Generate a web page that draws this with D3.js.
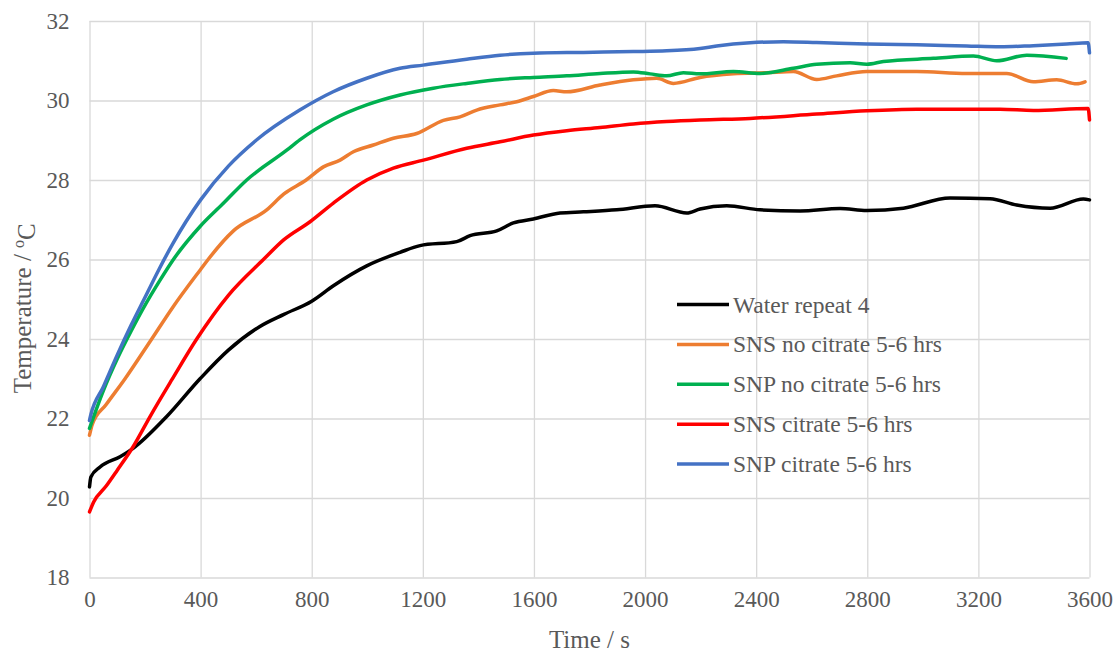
<!DOCTYPE html>
<html>
<head>
<meta charset="utf-8">
<title>Temperature vs time</title>
<style>
  body { margin: 0; background: #fff; }
  svg { display: block; font-family: "Liberation Serif", "Times New Roman", serif; }
  .grid line { stroke: #d9d9d9; stroke-width: 1.3; }
  .series { fill: none; stroke-width: 3.5; stroke-linejoin: round; stroke-linecap: round; }
</style>
</head>
<body>
<div id="chart"></div>
<script src="https://cdn.jsdelivr.net/npm/d3@7"></script>
<script>
// tick values
const xTicks = [0, 400, 800, 1200, 1600, 2000, 2400, 2800, 3200, 3600];
const yTicks = [18, 20, 22, 24, 26, 28, 30, 32];

// series names + colours
const names = ["Water repeat 4", "SNS no citrate 5-6 hrs", "SNP no citrate 5-6 hrs", "SNS citrate 5-6 hrs", "SNP citrate 5-6 hrs"];
const colors = ["#000000", "#ed7d31", "#00b050", "#ff0000", "#4472c4"];

// [time s, temperature C]
const water = [[0,20.28],[5,20.53],[38,20.78],[110,21.04],[157,21.25],[278,22.05],[398,23.0],[500,23.72],
  [612,24.31],[700,24.62],[800,24.95],[878,25.34],[998,25.84],[1118,26.18],[1190,26.35],[1322,26.45],
  [1370,26.6],[1466,26.72],[1526,26.92],[1598,27.02],[1694,27.17],[1778,27.2],[1898,27.25],[2036,27.35],
  [2150,27.17],[2198,27.27],[2294,27.35],[2414,27.25],[2558,27.22],[2702,27.28],[2798,27.23],[2930,27.29],
  [3098,27.55],[3242,27.53],[3338,27.37],[3458,27.29],[3578,27.52],[3600,27.5]];

const snsNo = [[0,21.58],[10,21.85],[60,22.35],[128,23.0],[224,24.0],[300,24.8],[400,25.75],[427,26.0],[518,26.72],
  [638,27.25],[700,27.65],[780,28.0],[842,28.33],[902,28.5],[950,28.71],[1022,28.88],[1094,29.05],
  [1178,29.17],[1274,29.5],[1334,29.59],[1394,29.76],[1478,29.89],[1538,29.97],[1598,30.1],[1670,30.25],
  [1718,30.22],[1838,30.39],[1958,30.52],[2042,30.56],[2102,30.43],[2198,30.58],[2318,30.67],[2438,30.7],
  [2534,30.73],[2618,30.53],[2690,30.62],[2798,30.73],[2978,30.73],[3158,30.68],[3302,30.68],[3398,30.47],
  [3482,30.52],[3554,30.42],[3584,30.47]];

const snpNo = [[0,21.75],[50,22.7],[100,23.5],[150,24.2],[200,24.85],[254,25.48],[302,26.0],[398,26.83],[480,27.4],
  [566,28.0],[710,28.75],[757,29.01],[877,29.53],[998,29.89],[1118,30.14],[1238,30.31],[1358,30.43],
  [1478,30.53],[1598,30.58],[1718,30.62],[1838,30.68],[1958,30.72],[2018,30.67],[2078,30.62],[2138,30.7],
  [2198,30.67],[2318,30.73],[2414,30.68],[2534,30.81],[2618,30.91],[2738,30.95],[2798,30.91],[2858,30.98],
  [3038,31.06],[3182,31.12],[3266,31.0],[3374,31.14],[3516,31.06]];

const snsCit = [[0,19.65],[15,19.9],[60,20.3],[100,20.7],[157,21.29],[218,22.05],[296,22.97],[386,24.0],[500,25.1],
  [626,26.0],[700,26.5],[794,26.95],[878,27.42],[998,28.0],[1094,28.3],[1202,28.5],[1358,28.8],[1478,28.96],
  [1598,29.13],[1718,29.24],[1838,29.32],[1958,29.41],[2078,29.47],[2198,29.51],[2378,29.55],[2618,29.66],
  [2798,29.74],[2978,29.78],[3278,29.78],[3398,29.75],[3595,29.8],[3600,29.51]];

const snpCit = [[0,21.95],[5,22.1],[50,22.8],[100,23.6],[150,24.35],[200,25.05],[250,25.75],[300,26.4],[400,27.5],
  [500,28.35],[600,29.0],[757,29.76],[877,30.22],[998,30.56],[1118,30.81],[1201,30.89],
  [1358,31.04],[1478,31.14],[1598,31.19],[1778,31.21],[1958,31.23],[2078,31.25],[2198,31.31],[2258,31.37],
  [2378,31.45],[2498,31.48],[2618,31.46],[2798,31.42],[2978,31.4],[3158,31.37],[3278,31.35],[3398,31.38],
  [3518,31.42],[3595,31.45],[3600,31.2]];

const allSeries = [water, snsNo, snpNo, snsCit, snpCit];

const width = 1119, height = 652;
const plotL = 89.5, plotR = 1089.5, plotT = 21, plotB = 577.5;
const serif = '"Liberation Serif", "Times New Roman", serif';

const svg = d3.select("#chart").append("svg")
  .attr("width", width)
  .attr("height", height);

const x = d3.scaleLinear().domain([0, 3600]).range([plotL, plotR]);
const y = d3.scaleLinear().domain([18, 32]).range([plotB, plotT]);

// gridlines
svg.append("g")
  .attr("class", "grid")
  .attr("transform", `translate(0,${plotB})`)
  .call(d3.axisBottom(x).tickValues(xTicks).tickSize(-(plotB - plotT)).tickFormat(""))
  .call(g => g.select(".domain").remove());
svg.append("g")
  .attr("class", "grid")
  .attr("transform", `translate(${plotL},0)`)
  .call(d3.axisLeft(y).tickValues(yTicks).tickSize(-(plotR - plotL)).tickFormat(""))
  .call(g => g.select(".domain").remove());

// tick labels
function styleTicks(g) {
  g.attr("font-family", serif).attr("font-size", 23);
  g.select(".domain").remove();
  g.selectAll("text")
    .attr("fill", "#595959")
    .style("font-family", serif)
    .style("font-size", "23px");
}
svg.append("g")
  .attr("transform", `translate(0,${plotB})`)
  .call(d3.axisBottom(x).tickValues(xTicks).tickSize(0).tickPadding(13).tickFormat(d3.format("d")))
  .call(styleTicks);
svg.append("g")
  .attr("transform", `translate(${plotL},0)`)
  .call(d3.axisLeft(y).tickValues(yTicks).tickSize(0).tickPadding(20).tickFormat(d3.format("d")))
  .call(styleTicks);

// lines
const line = d3.line()
  .x(d => x(d[0]))
  .y(d => y(d[1]))
  .curve(d3.curveMonotoneX);

svg.append("g").selectAll("path")
  .data(allSeries)
  .join("path")
  .attr("class", "series")
  .attr("stroke", (d, i) => colors[i])
  .attr("d", line);

// axis titles
svg.append("text")
  .attr("x", (plotL + plotR) / 2)
  .attr("y", 648)
  .attr("text-anchor", "middle")
  .attr("fill", "#595959")
  .style("font-size", "25px")
  .text("Time / s");

const yt = svg.append("text")
  .attr("transform", `translate(31,${(plotT + plotB) / 2 + 9}) rotate(-90)`)
  .attr("text-anchor", "middle")
  .attr("fill", "#595959")
  .style("font-size", "25px");
yt.append("tspan").text("Temperature / ");
yt.append("tspan").attr("dy", "-0.45em").style("font-size", "16px").text("o");
yt.append("tspan").attr("dy", "0.45em").text("C");

// legend
const legend = svg.append("g").attr("transform", "translate(677,304.5)");
const rows = legend.selectAll("g")
  .data(names)
  .join("g")
  .attr("transform", (d, i) => `translate(0,${i * 39.9})`);
rows.append("line")
  .attr("x1", 0).attr("x2", 52)
  .attr("stroke", (d, i) => colors[i])
  .attr("stroke-width", 3.5);
rows.append("text")
  .attr("x", 56)
  .attr("y", 8)
  .attr("fill", "#595959")
  .style("font-size", "23.5px")
  .text(d => d);
</script>
</body>
</html>
